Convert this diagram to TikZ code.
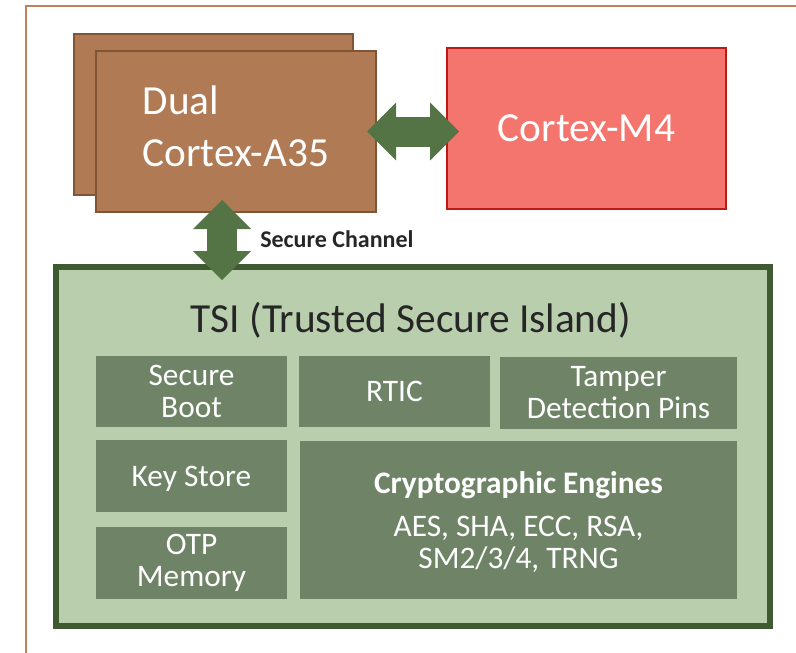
\documentclass[tikz,border=0pt]{standalone}
\usepackage{fontspec}
\setmainfont{Carlito}
\usetikzlibrary{arrows.meta,calc}

\definecolor{framecol}{HTML}{C0825A}
\definecolor{cpufill}{HTML}{B07A55}
\definecolor{cpuline}{HTML}{7F5536}
\definecolor{mcufill}{HTML}{F4756D}
\definecolor{mculine}{HTML}{BC1A14}
\definecolor{linkcol}{HTML}{547446}
\definecolor{tsifill}{HTML}{B9CEAC}
\definecolor{tsiline}{HTML}{3F5A30}
\definecolor{unitfill}{HTML}{6F8467}
\definecolor{darktext}{HTML}{262626}

\tikzset{
  cpu/.style={draw=cpuline, line width=1.5pt, fill=cpufill, text=white, inner sep=0pt,
    font=\fontsize{31}{39}\selectfont},
  mcu/.style={draw=mculine, line width=1.5pt, fill=mcufill, text=white, inner sep=0pt,
    font=\fontsize{31}{39}\selectfont},
  island/.style={draw=tsiline, line width=4.5pt, fill=tsifill, inner sep=0pt},
  unit/.style={fill=unitfill, text=white, inner sep=0pt, align=center,
    font=\fontsize{23.5}{24}\selectfont},
  link/.style={draw=linkcol, line width=22.5pt,
    {Triangle[width=43.5pt, length=21.75pt, line width=0pt]}-{Triangle[width=43.5pt, length=21.75pt, line width=0pt]}},
  size/.style 2 args={minimum width=#1*0.75pt, minimum height=#2*0.75pt}
}

\begin{document}
\begin{tikzpicture}[x=0.75pt, y=-0.75pt]
	%%%%% START %%%%%
	\useasboundingbox (0,0) rectangle (796,653);
	\draw[framecol, line width=1.5pt] (25.5,660) |- (800,5.5);
	
	% processors
	\node[cpu, size={279}{161}] (a35back) at (213.5,114.5) {};
	\node[cpu, size={280}{161}, align=left, text depth=8.25pt] (a35) at (236,131.5) {Dual\\Cortex-A35};
	\node[mcu, size={279}{161}] (m4) at (586.5,128.5) {Cortex-M4};
	
	% trusted secure island
	\node[island, size={714}{359}] (tsi) at (413,446.5) {};
	\node[anchor=base, text=darktext, font=\fontsize{31}{39}\selectfont] (tsititle) at (411,332) {TSI (Trusted Secure Island)};
	
	\node[unit, size={191}{71}] (sboot) at (191.5,391.5) {Secure\\Boot};
	\node[unit, size={191}{71}] (rtic) at (394.5,391.5) {RTIC};
	\node[unit, size={237}{72}] (tamper) at (618.5,393) {Tamper\\Detection Pins};
	\node[unit, size={191}{72}, text depth=0pt] (keystore) at (191.5,476) {Key Store};
	\node[unit, size={191}{72}] (otp) at (191.5,563) {OTP\\Memory};
	\node[unit, size={437}{158}, text depth=0pt] (crypto) at (518.5,520) {\textbf{Cryptographic Engines}\\[8pt]AES, SHA, ECC, RSA,\\SM2/3/4, TRNG};
	
	% links
	\draw[link] ($(a35.east)+(-10,0)$) -- ($(m4.west |- a35.east)+(13,0)$);
	\coordinate (chtop) at (222,200);
	\coordinate (chbot) at (222,280);
	\draw[link] (chtop) -- (chbot);
	\node[anchor=base west, inner sep=0pt, text=darktext, font=\fontsize{18}{20}\selectfont\bfseries] (chlabel) at (260,247) {Secure Channel};
	%%%%% END %%%%%
\end{tikzpicture}
\end{document}
